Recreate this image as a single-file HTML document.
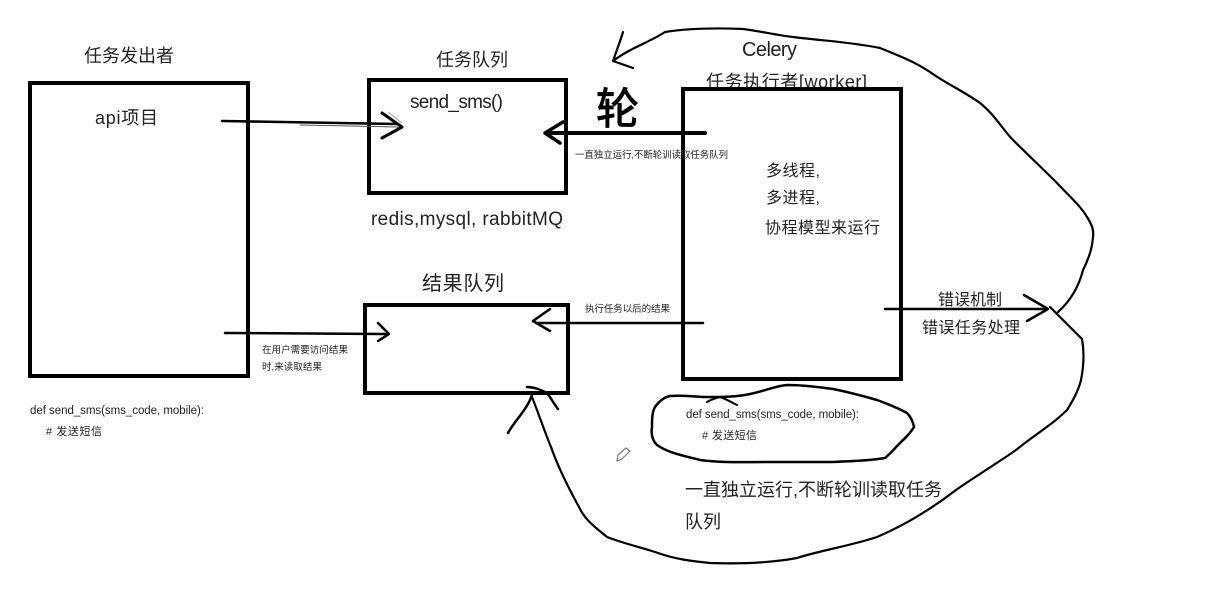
<!DOCTYPE html>
<html lang="zh">
<head>
<meta charset="utf-8">
<title>Celery</title>
<style>
html,body{margin:0;padding:0;background:#fff;width:1215px;height:615px;overflow:hidden}
svg{display:block}
text{font-family:"Liberation Sans","Noto Sans CJK SC",sans-serif;fill:#222}
.i{fill:none;stroke:#000;stroke-linecap:round;stroke-linejoin:round}
.b{fill:none;stroke:#000;stroke-width:4}
</style>
</head>
<body>
<svg width="1215" height="615" viewBox="0 0 1215 615" xmlns="http://www.w3.org/2000/svg">
<rect width="1215" height="615" fill="#fff"/>

<!-- headings -->
<text x="84" y="62" font-size="18" textLength="90">任务发出者</text>
<text x="436" y="66" font-size="18" textLength="72">任务队列</text>
<text x="422" y="290" font-size="20" textLength="82">结果队列</text>
<text x="742" y="56" font-size="20" textLength="55">Celery</text>
<text x="706" y="88" font-size="18" textLength="161">任务执行者[worker]</text>
<rect x="704" y="87" width="170" height="6" fill="#fff"/>

<!-- boxes -->
<rect class="b" x="30" y="83" width="218" height="293"/>
<rect class="b" x="369" y="80" width="197" height="113"/>
<rect class="b" x="365" y="305" width="203" height="88"/>
<rect class="b" x="683" y="89" width="218" height="290"/>

<!-- box text -->
<text x="95" y="124" font-size="18" textLength="63">api项目</text>
<text x="410" y="108" font-size="19" textLength="93">send_sms()</text>
<text x="371" y="225" font-size="19" textLength="192">redis,mysql, rabbitMQ</text>
<text x="766" y="176" font-size="16" textLength="54">多线程,</text>
<text x="766" y="203" font-size="16" textLength="54">多进程,</text>
<text x="765" y="233" font-size="16" textLength="115">协程模型来运行</text>

<!-- small labels -->
<text x="575" y="158" font-size="9.5" textLength="153">一直独立运行,不断轮训读取任务队列</text>
<text x="585" y="312" font-size="9.5" textLength="85">执行任务以后的结果</text>
<text x="262" y="353" font-size="9.5" textLength="86">在用户需要访问结果</text>
<text x="262" y="370" font-size="9.5" textLength="60">时,来读取结果</text>

<text x="30" y="414" font-size="11.5" textLength="174">def send_sms(sms_code, mobile):</text>
<text x="46" y="435" font-size="11" textLength="56"># 发送短信</text>
<text x="686" y="418" font-size="11.5" textLength="173">def send_sms(sms_code, mobile):</text>
<text x="702" y="439" font-size="11" textLength="55"># 发送短信</text>

<text x="938" y="305" font-size="16" textLength="64">错误机制</text>
<text x="922" y="333" font-size="16" textLength="98">错误任务处理</text>
<text x="685" y="496" font-size="18" textLength="257">一直独立运行,不断轮训读取任务</text>
<text x="685" y="528" font-size="18" textLength="36">队列</text>

<!-- handwritten character -->
<text x="596" y="124" font-size="43" style="fill:#000;stroke:#000;stroke-width:1">轮</text>

<!-- arrows -->
<path class="i" stroke-width="2.5" d="M222 121 L398 124"/>
<path d="M300 125 L398 127" fill="none" stroke="#555" stroke-width="1"/>
<path class="i" stroke-width="3" d="M382 113 L402 127 L382 138"/>
<path d="M388 112 L402 123" fill="none" stroke="#999" stroke-width="1"/>

<path class="i" stroke-width="4" d="M705 133 L548 133"/>
<path class="i" stroke-width="3.5" d="M563 122 L545 133 L560 143"/>

<path class="i" stroke-width="2.5" d="M703 323 L536 323"/>
<path class="i" stroke-width="2.5" d="M550 309 L533 321 L550 331"/>

<path class="i" stroke-width="2.5" d="M225 333 L388 334"/>
<path class="i" stroke-width="2.5" d="M378 323 L389 334 L378 341"/>

<path class="i" stroke-width="2.5" d="M885 309 L1046 309"/>
<path class="i" stroke-width="2.5" d="M1024 295 L1048 309 L1027 321"/>

<!-- large loop -->
<path class="i" stroke-width="2.2" d="M623 32 C620 42 616 52 613 61 L633 68"/>
<path class="i" stroke-width="2.2" d="M613 61 C630 48 650 42 665 32 C690 28 720 28 743 29 C760 31 775 35 793 37 C825 41 850 42 880 48 C900 56 915 62 930 72 C945 83 965 92 980 103 C995 115 1003 130 1013 140 C1028 155 1042 168 1057 183 C1068 195 1080 205 1087 217 C1092 225 1094 230 1093 237 C1092 250 1088 260 1083 270 C1078 290 1068 303 1058 312"/>
<path class="i" stroke-width="2.2" d="M1050 307 L1082 339 C1084 350 1084 365 1081 380 C1078 392 1072 402 1067 410 C1052 425 1034 435 1016 450 C996 464 976 476 956 490 C930 510 905 525 877 537 C850 546 822 550 797 558 C770 563 740 564 710 563 C690 561 675 559 658 553 C640 547 622 543 607 537 C595 527 585 520 579 507 C568 487 558 467 551 447 C544 430 538 412 532 397"/>
<path class="i" stroke-width="2.5" d="M508 433 C515 420 527 410 532 395 M527 387 C535 387 541 390 547 393 C551 398 554 404 558 409"/>

<!-- blob around code -->
<path class="i" stroke-width="2.5" d="M655 407 C660 400 665 397 670 396 C685 395 695 397 707 397 C722 397 737 397 750 394 C765 391 775 386 787 385 C803 385 818 387 833 389 C848 392 863 396 877 400 C888 404 898 408 907 413 C911 417 913 422 914 427 C910 434 905 438 900 443 C895 448 890 454 885 458 C868 461 850 461 833 462 C810 462 790 462 767 462 C745 462 722 463 700 460 C685 456 668 453 657 445 C652 440 651 433 652 427 C652 420 652 412 655 407 Z"/>
<path class="i" stroke-width="2" d="M707 402 C712 399 716 398 720 397 C726 399 731 402 737 405"/>

<!-- pencil cursor -->
<g fill="#fff" stroke="#777" stroke-width="1.2" stroke-linejoin="round">
<path d="M617 461 L618 455 L626 448 L630 451 L622 459 Z"/>
</g>
</svg>
</body>
</html>
